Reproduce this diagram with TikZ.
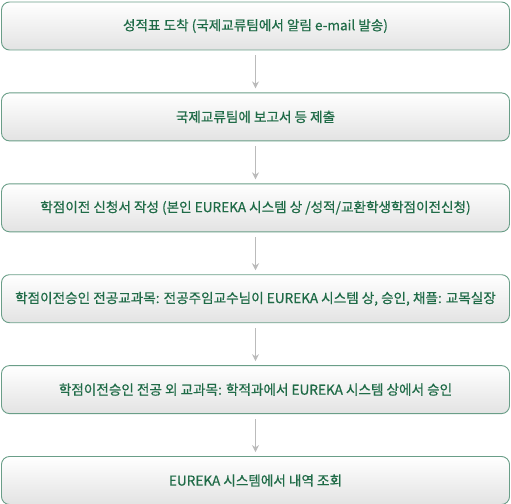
\documentclass[tikz,border=0pt]{standalone}
\usepackage{fontspec}
\setmainfont{Noto Sans CJK KR}[FakeBold=0.6]
\usetikzlibrary{positioning,arrows.meta}
\definecolor{boxline}{HTML}{6A9E88}
\definecolor{boxtext}{HTML}{1F6B47}
\definecolor{arrowgray}{HTML}{BBBBBB}
\tikzset{
  stepbox/.style={draw=boxline, line width=0.9pt, rounded corners=8pt,
    top color=white, bottom color=black!11, minimum width=508pt,
    minimum height=48pt, inner sep=0pt, text=boxtext,
    font=\fontsize{13.6}{16}\selectfont},
  flow/.style={draw=arrowgray, line width=0.9pt,
    -{Stealth[length=7pt,width=7pt]}, shorten <=5pt, shorten >=4pt}
}
\begin{document}
\begin{tikzpicture}
    \useasboundingbox (0pt,0pt) rectangle (511pt,-503pt);
    \node[stepbox] (b1) at (255.5pt,-26pt) {성적표 도착 (국제교류팀에서 알림 e-mail 발송)};
    \node[stepbox, below=42pt of b1] (b2) {국제교류팀에 보고서 등 제출};
    \node[stepbox, below=42pt of b2] (b3) {학점이전 신청서 작성 (본인 EUREKA 시스템 상 /성적/교환학생학점이전신청)};
    \node[stepbox, below=42pt of b3] (b4) {학점이전승인 전공교과목: 전공주임교수님이 EUREKA 시스템 상, 승인, 채플: 교목실장};
    \node[stepbox, below=42pt of b4] (b5) {학점이전승인 전공 외 교과목: 학적과에서 EUREKA 시스템 상에서 승인};
    \node[stepbox, below=42pt of b5] (b6) {EUREKA 시스템에서 내역 조회};
    \foreach \a/\b in {b1/b2,b2/b3,b3/b4,b4/b5,b5/b6}{%
      \draw[flow] (\a) -- (\b);
    }
\end{tikzpicture}
\end{document}
